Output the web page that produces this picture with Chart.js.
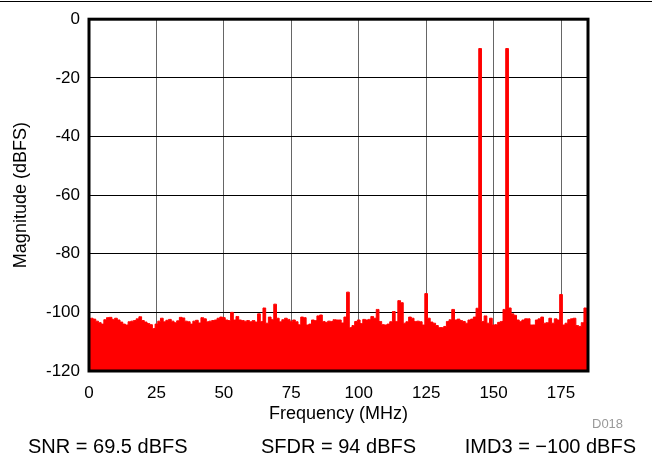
<!DOCTYPE html>
<html>
<head>
<meta charset="utf-8">
<script src="https://cdn.jsdelivr.net/npm/chart.js@4/dist/chart.umd.min.js"></script>
<style>
  html, body { margin: 0; padding: 0; background: #fff; }
  #wrap { position: relative; width: 652px; height: 458px; font-family: "Liberation Sans", Arial, sans-serif; }
  #topline { position: absolute; left: 0; top: 1px; width: 652px; border-top: 1px solid #000; }
  .note { position: absolute; font-size: 20px; line-height: 20px; color: #000; white-space: nowrap; }
  #tag { position: absolute; left: 592px; top: 417px; font-size: 13px; line-height: 13px; color: #999; }
</style>
</head>
<body>
<div id="wrap">
  <canvas id="fft" width="652" height="458"></canvas>
  <div id="topline"></div>
  <div id="tag">D018</div>
  <div class="note" style="left:28px; top:436px">SNR = 69.5 dBFS</div>
  <div class="note" style="left:261px; top:436px">SFDR = 94 dBFS</div>
  <div class="note" style="right:16px; top:436px">IMD3 = &minus;100 dBFS</div>
</div>
<script>
// FFT of two-tone input, one value per 1 MHz bin (dBFS)
const binMHz = 1;
const magnitude = [
  -102.5, -102.0, -102.3, -103.0, -103.5, -104.0, -102.5, -101.8, -101.7, -102.4,
  -102.0, -102.6, -103.3, -104.0, -104.3, -103.2, -103.0, -102.8, -102.2, -101.5,
  -102.8, -103.3, -103.8, -104.2, -105.5, -104.0, -103.0, -102.0, -103.2, -102.7,
  -102.4, -103.0, -103.5, -102.9, -101.7, -101.9, -103.0, -103.2, -104.0, -103.0,
  -102.7, -103.6, -101.8, -102.2, -103.2, -103.0, -102.8, -102.6, -102.0, -101.6,
  -101.8, -102.6, -102.8, -100.0, -102.6, -101.4, -102.6, -102.8, -103.0, -102.8,
  -103.2, -102.8, -103.3, -100.5, -103.1, -98.5, -103.7, -101.6, -102.4, -97.2,
  -102.0, -103.2, -102.5, -102.0, -102.4, -103.0, -102.6, -103.2, -104.2, -101.6,
  -101.8, -104.3, -104.0, -102.6, -102.8, -101.2, -100.9, -103.1, -103.4, -103.0,
  -103.1, -102.5, -102.6, -102.6, -103.6, -101.6, -93.1, -105.2, -104.5, -103.1,
  -102.6, -103.8, -102.4, -102.6, -102.4, -101.4, -102.0, -99.0, -103.1, -104.2,
  -104.3, -104.0, -103.2, -99.7, -103.1, -96.0, -96.7, -103.7, -103.2, -101.6,
  -102.0, -103.1, -103.0, -103.2, -104.3, -93.6, -102.0, -103.3, -103.7, -104.5,
  -105.2, -105.2, -104.8, -103.1, -102.5, -99.0, -102.6, -102.3, -102.8, -103.1,
  -103.7, -102.6, -102.3, -101.6, -98.6, -10.0, -103.1, -101.2, -103.7, -102.0,
  -104.3, -104.2, -103.4, -103.1, -99.0, -10.0, -98.5, -100.5, -101.0, -102.6,
  -103.1, -102.6, -102.2, -102.2, -104.3, -104.3, -102.6, -102.2, -101.6, -103.7,
  -103.5, -102.0, -103.7, -102.2, -102.6, -93.9, -104.3, -103.7, -102.5, -102.2,
  -102.0, -104.5, -104.8, -103.5, -98.5, -103.0
];
const freqTicks = [0, 25, 50, 75, 100, 125, 150, 175];
const dbTicks = [-120, -100, -80, -60, -40, -20, 0];

const font = "'Liberation Sans', Arial, sans-serif";

// thick black frame round the plot area
const frame = {
  id: "frame",
  afterDraw(chart) {
    const a = chart.chartArea, c = chart.ctx;
    c.save();
    c.strokeStyle = "#000";
    c.lineWidth = 3;
    c.strokeRect(a.left, a.top, a.right - a.left, a.bottom - a.top);
    c.restore();
  }
};

new Chart(document.getElementById("fft"), {
  type: "line",
  data: {
    datasets: [{
      data: magnitude.map((v, i) => ({ x: i * binMHz, y: v })),
      borderColor: "#ff0000",
      backgroundColor: "#ff0000",
      borderWidth: 1,
      pointRadius: 0,
      stepped: "middle",
      fill: "start",
    }]
  },
  options: {
    responsive: false,
    animation: false,
    devicePixelRatio: 1,
    layout: { padding: { left: 0, top: 16, right: 64, bottom: 29 } },
    plugins: { legend: { display: false }, tooltip: { enabled: false } },
    scales: {
      x: {
        type: "linear", min: 0, max: 185,
        afterBuildTicks: (s) => { s.ticks = freqTicks.map((v) => ({ value: v })); },
        afterFit: (s) => { s.height = 58; },
        ticks: { color: "#000", padding: 12, font: { family: font, size: 17 } },
        grid: { color: "#666", lineWidth: 1, drawTicks: false },
        border: { display: false },
        title: { display: true, text: "Frequency (MHz)", color: "#000",
                 padding: { top: 0, bottom: 4 }, font: { family: font, size: 18 } },
      },
      y: {
        type: "linear", min: -120, max: 0,
        afterBuildTicks: (s) => { s.ticks = dbTicks.map((v) => ({ value: v })); },
        afterFit: (s) => { s.width = 89; },
        ticks: { color: "#000", padding: 9, font: { family: font, size: 17 } },
        grid: { color: "#000", lineWidth: 1, drawTicks: false },
        border: { display: false },
        title: { display: true, text: "Magnitude (dBFS)", color: "#000",
                 padding: { top: 10, bottom: 0 }, font: { family: font, size: 18 } },
      },
    },
  },
  plugins: [frame],
});
</script>
</body>
</html>
